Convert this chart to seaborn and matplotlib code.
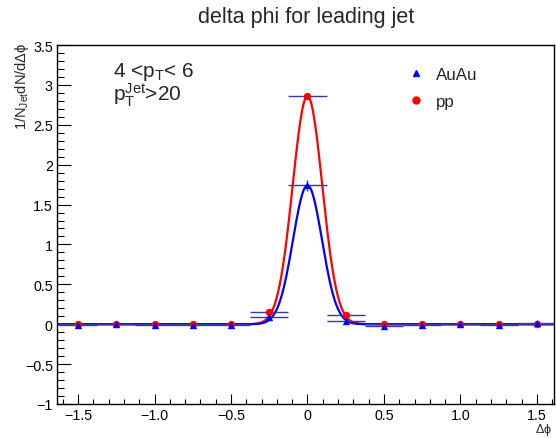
import numpy as np
import pandas as pd
import matplotlib
matplotlib.use("Agg")
import matplotlib.pyplot as plt
from matplotlib.lines import Line2D
from matplotlib.ticker import MultipleLocator
import seaborn as sns

# ---- data ----
dphi = [-1.5, -1.25, -1.0, -0.75, -0.5, -0.25, 0.0, 0.25, 0.5, 0.75, 1.0, 1.25, 1.5]
pp_vals = [0.005, 0.005, 0.003, 0.005, 0.005, 0.15, 2.86, 0.12, 0.005, 0.005, 0.003, 0.005, 0.005]
pp_err = [0.004, 0.004, 0.004, 0.004, 0.004, 0.02, 0.03, 0.02, 0.004, 0.004, 0.004, 0.004, 0.004]
auau_vals = [-0.005, 0.0, -0.005, -0.005, -0.005, 0.09, 1.74, 0.04, -0.02, -0.005, 0.0, -0.005, 0.01]
auau_err = [0.01, 0.01, 0.01, 0.01, 0.01, 0.03, 0.07, 0.03, 0.01, 0.01, 0.01, 0.01, 0.01]
bin_half_width = 0.125
# Gaussian fit parameters (amplitude, mean, sigma)
pp_fit = (2.86, 0.0, 0.097)
auau_fit = (1.74, 0.0, 0.095)
x_ticks = [-1.5, -1.0, -0.5, 0.0, 0.5, 1.0, 1.5]
y_ticks = [-1, -0.5, 0, 0.5, 1, 1.5, 2, 2.5, 3, 3.5]

sns.set_theme(style="ticks")
plt.rcParams["font.family"] = ["Liberation Sans", "DejaVu Sans"]
plt.rcParams["mathtext.fontset"] = "custom"
plt.rcParams["mathtext.rm"] = "Liberation Sans"
plt.rcParams["mathtext.it"] = "Liberation Sans:italic"
plt.rcParams["mathtext.default"] = "rm"

fig = plt.figure(figsize=(5.56, 4.39), dpi=100)
ax = fig.add_axes([57 / 556, 1 - 405 / 439, (554 - 57) / 556, (405 - 46) / 439])

# fit curves
xf = np.linspace(-1.64, 1.62, 600)
def gaus(x, p):
    a, m, s = p
    return a * np.exp(-0.5 * ((x - m) / s) ** 2)

fits = pd.DataFrame({
    "x": np.concatenate([xf, xf]),
    "y": np.concatenate([gaus(xf, pp_fit), gaus(xf, auau_fit)]),
    "sample": ["pp"] * len(xf) + ["AuAu"] * len(xf),
})
sns.lineplot(data=fits[fits["sample"] == "pp"], x="x", y="y", color="red", lw=1.6, ax=ax, zorder=2)
sns.lineplot(data=fits[fits["sample"] == "AuAu"], x="x", y="y", color="blue", lw=1.6, ax=ax, zorder=3)

errc = "#3838a8"
ax.errorbar(dphi, pp_vals, xerr=bin_half_width, yerr=pp_err, fmt="none", ecolor=errc, elinewidth=1.0, capsize=0, zorder=4)
ax.errorbar(dphi, auau_vals, xerr=bin_half_width, yerr=auau_err, fmt="none", ecolor=errc, elinewidth=1.0, capsize=0, zorder=4)

pts = pd.DataFrame({
    "x": dphi + dphi,
    "y": pp_vals + auau_vals,
    "sample": ["pp"] * len(dphi) + ["AuAu"] * len(dphi),
})
sns.scatterplot(data=pts[pts["sample"] == "pp"], x="x", y="y", marker="o", color="red", s=28, linewidth=0, ax=ax, zorder=5, legend=False)
sns.scatterplot(data=pts[pts["sample"] == "AuAu"], x="x", y="y", marker="^", color="blue", s=28, linewidth=0, ax=ax, zorder=6, legend=False)

ax.set_xlim(-1.638, 1.612)
ax.set_ylim(-1, 3.5)
ax.set_xticks(x_ticks)
ax.set_xticklabels([str(t).replace("-", "\u2212") if t != 0 else "0" for t in x_ticks])
ax.set_yticks(y_ticks)
ax.set_yticklabels([("%g" % t).replace("-", "\u2212") for t in y_ticks])
ax.xaxis.set_minor_locator(MultipleLocator(0.1))
ax.yaxis.set_minor_locator(MultipleLocator(0.1))
ax.tick_params(axis="both", which="both", direction="in", top=False, right=False, labelsize=10.3, color="black", labelcolor="black")
ax.tick_params(axis="x", which="major", length=7.5, width=0.8, pad=3)
ax.tick_params(axis="x", which="minor", length=3.8, width=0.8)
ax.tick_params(axis="y", which="major", length=10, width=0.8, pad=3)
ax.tick_params(axis="y", which="minor", length=5, width=0.8)
for sp in ax.spines.values():
    sp.set_visible(True)
    sp.set_color("black")
    sp.set_linewidth(1.0)
ax.set_xlabel("")
ax.set_ylabel("")

fig.text(306 / 556, 1 - 18 / 439, "delta phi for leading jet", ha="center", va="center", fontsize=15.5)
fig.text(22 / 556, 1 - 43 / 439, r"1/N$_{\mathrm{Jet}}$dN/d$\Delta\phi$", rotation=90, ha="center", va="top", fontsize=10.5)
fig.text(552 / 556, 1 - 430 / 439, r"$\Delta\phi$", ha="right", va="center", fontsize=9)

fig.text(113 / 556, 1 - 77 / 439, r"4 <p$_{\mathrm{T}}$< 6", ha="left", va="baseline", fontsize=15)
fig.text(113 / 556, 1 - 101 / 439, r"p$_{\mathrm{T}}^{\mathrm{Jet}}$>20", ha="left", va="baseline", fontsize=15)

handles = [
    Line2D([], [], marker="^", color="blue", ls="none", markersize=5),
    Line2D([], [], marker="o", color="red", ls="none", markersize=5),
]
ax.legend(handles, ["AuAu", "pp"], loc="upper left", bbox_to_anchor=(408 / 556, 1 - 68 / 439),
          bbox_transform=fig.transFigure, frameon=False, fontsize=12.2, handlelength=1.0,
          handletextpad=0.65, labelspacing=0.7, borderpad=0, borderaxespad=0)

fig.savefig("out.png", dpi=100)
